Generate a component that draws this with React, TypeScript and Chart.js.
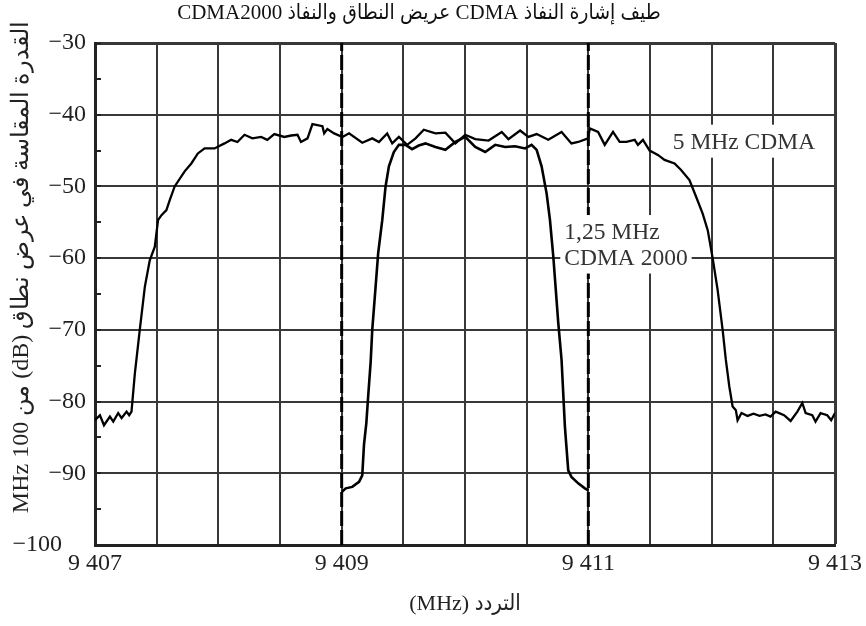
import React, { useEffect, useRef } from 'react';
import { Chart, registerables } from 'chart.js';

Chart.register(...registerables);

// ---------- text ----------
const RLE = '\u202B';
const PDF = '\u202C';
const chartTitle = 'طيف إشارة النفاذ CDMA عريض النطاق والنفاذ CDMA2000';
const xAxisTitle = 'التردد (MHz)';
const yAxisTitle = 'القدرة المقاسة في عرض نطاق (dB) من 100 MHz';

// ---------- ticks ----------
const xTickValues = [9407, 9409, 9411, 9413];
const xTickLabels = ['9 407', '9 409', '9 411', '9 413'];
const yTickValues = [-30, -40, -50, -60, -70, -80, -90, -100];
const yTickLabels = ['−30', '−40', '−50', '−60', '−70', '−80', '−90', '−100    '];

// ---------- markers ----------
const markerFreqs = [9409, 9411];

// ---------- 5 MHz CDMA trace ----------
const freq5MHz = [
  9407.000, 9407.040, 9407.073, 9407.121, 9407.148, 9407.188, 9407.216, 9407.256, 9407.277, 9407.296,
  9407.323, 9407.363, 9407.404, 9407.444, 9407.485, 9407.511, 9407.539, 9407.579, 9407.606, 9407.646,
  9407.727, 9407.781, 9407.834, 9407.889, 9407.969, 9408.050, 9408.104, 9408.155, 9408.212, 9408.276,
  9408.347, 9408.397, 9408.454, 9408.535, 9408.591, 9408.642, 9408.670, 9408.723, 9408.763, 9408.844,
  9408.858, 9408.884, 9408.939, 9409.006, 9409.060, 9409.167, 9409.248, 9409.302, 9409.369, 9409.410,
  9409.464, 9409.531, 9409.599, 9409.666, 9409.760, 9409.841, 9409.922, 9410.002, 9410.083, 9410.191,
  9410.298, 9410.352, 9410.447, 9410.514, 9410.581, 9410.675, 9410.783, 9410.863, 9410.918, 9410.998,
  9411.012, 9411.079, 9411.133, 9411.200, 9411.254, 9411.308, 9411.376, 9411.402, 9411.443, 9411.497,
  9411.564, 9411.618, 9411.699, 9411.752, 9411.820, 9411.873, 9411.927, 9411.968, 9412.008, 9412.048,
  9412.089, 9412.115, 9412.143, 9412.170, 9412.196, 9412.210, 9412.242, 9412.291, 9412.339, 9412.388,
  9412.436, 9412.477, 9412.519, 9412.587, 9412.640, 9412.695, 9412.735, 9412.762, 9412.816, 9412.842,
  9412.883, 9412.937, 9412.969, 9413.000,
];
const power5MHz = [
  -82.6, -81.9, -83.3, -82.1, -82.8, -81.6, -82.3, -81.4, -81.9, -81.4,
  -76.1, -70.0, -64.0, -60.3, -58.4, -54.7, -54.0, -53.3, -51.9, -50.0,
  -47.9, -46.8, -45.4, -44.7, -44.7, -44.0, -43.5, -43.8, -42.8, -43.3,
  -43.1, -43.5, -42.7, -43.1, -42.9, -42.8, -43.8, -43.3, -41.3, -41.6,
  -42.6, -42.0, -42.6, -43.1, -42.6, -43.9, -43.3, -43.8, -42.6, -44.0,
  -43.1, -44.2, -43.3, -42.1, -42.6, -42.5, -44.0, -42.8, -43.4, -43.6,
  -42.4, -43.4, -42.2, -43.1, -42.7, -43.5, -42.4, -44.0, -43.8, -43.3,
  -41.9, -42.4, -44.2, -42.4, -43.8, -43.8, -43.5, -44.2, -43.5, -45.0,
  -45.6, -46.3, -46.8, -47.7, -49.1, -51.4, -53.8, -56.1, -60.0, -64.4,
  -70.0, -74.2, -77.9, -80.7, -81.2, -82.6, -81.6, -82.0, -81.7, -82.0,
  -81.8, -82.1, -81.4, -81.9, -82.7, -81.4, -80.2, -81.6, -81.9, -82.8,
  -81.6, -81.9, -82.6, -81.6,
];

// ---------- 1.25 MHz CDMA2000 trace ----------
const freq125MHz = [
  9409.000, 9409.033, 9409.086, 9409.141, 9409.167, 9409.181, 9409.200, 9409.216, 9409.235, 9409.248,
  9409.275, 9409.296, 9409.329, 9409.356, 9409.383, 9409.423, 9409.464, 9409.518, 9409.571, 9409.625,
  9409.679, 9409.760, 9409.841, 9409.922, 9410.002, 9410.083, 9410.164, 9410.245, 9410.326, 9410.406,
  9410.487, 9410.540, 9410.581, 9410.621, 9410.662, 9410.689, 9410.716, 9410.730, 9410.756, 9410.783,
  9410.810, 9410.837, 9410.863, 9410.918, 9410.972, 9411.000,
];
const power125MHz = [
  -92.6, -92.1, -91.9, -91.2, -90.3, -86.0, -83.0, -79.0, -74.5, -70.0,
  -64.0, -59.3, -54.7, -50.0, -47.2, -45.2, -44.2, -44.2, -44.8, -44.3,
  -44.0, -44.5, -44.9, -43.8, -43.1, -44.5, -45.2, -44.2, -44.5, -44.4,
  -44.7, -44.2, -44.9, -47.2, -51.0, -54.7, -59.8, -63.0, -69.0, -74.2,
  -83.5, -89.6, -90.5, -91.4, -92.1, -92.4,
];

// ---------- annotation labels ----------
const label5Lines = ['5 MHz CDMA'];
const label125Lines = ['1,25 MHz', 'CDMA 2000'];
const annotationAnchors = [
  { lines: label5Lines, x: 9411.685, y: -43.9 },
  { lines: label125Lines, x: 9410.805, y: -56.5 },
];

const SERIF = '"Liberation Serif", "Times New Roman", "DejaVu Sans Condensed", serif';
const TICK_SIZE = 24;
const ANNOT_SIZE = 23.5;
const TITLE_SIZE = 21;
const XTITLE_SIZE = 22;
const YTITLE_SIZE = 24;

const annotationPlugin = {
  id: 'textAnnotations',
  afterDatasetsDraw(chart: any) {
    const { ctx, scales } = chart;
    const xs = scales.x;
    const ys = scales.y;
    ctx.save();
    ctx.font = `${ANNOT_SIZE}px ${SERIF}`;
    ctx.textAlign = 'left';
    ctx.textBaseline = 'middle';
    const lh = 25.5;
    for (const a of annotationAnchors) {
      const px = xs.getPixelForValue(a.x);
      const py = ys.getPixelForValue(a.y);
      const w = Math.max(...a.lines.map((l: string) => ctx.measureText(l).width));
      const top = py - 18;
      const bottom = py + (a.lines.length - 1) * lh + 15;
      ctx.fillStyle = '#ffffff';
      ctx.fillRect(px - 4, top, w + 8, bottom - top);
      ctx.fillStyle = '#333333';
      a.lines.forEach((l: string, i: number) => ctx.fillText(l, px, py + i * lh));
    }
    ctx.restore();
  },
};

const yTitlePlugin = {
  id: 'rtlYTitle',
  afterDraw(chart: any) {
    const { ctx, chartArea, scales } = chart;
    const ys = scales.y;
    ctx.save();
    ctx.translate(ys.left + 22, (chartArea.top + chartArea.bottom) / 2 - 27);
    ctx.rotate(-Math.PI / 2);
    ctx.font = `${YTITLE_SIZE}px "Liberation Serif", "Times New Roman", serif`;
    ctx.fillStyle = '#222222';
    (ctx as any).direction = 'rtl';
    ctx.textAlign = 'center';
    ctx.textBaseline = 'middle';
    ctx.fillText(yAxisTitle, 0, 0);
    ctx.restore();
  },
};

export default function App() {
  const canvasRef = useRef<HTMLCanvasElement | null>(null);

  useEffect(() => {
    if (!canvasRef.current) return;
    const trace5 = freq5MHz.map((f, i) => ({ x: f, y: power5MHz[i] }));
    const trace125 = freq125MHz.map((f, i) => ({ x: f, y: power125MHz[i] }));
    const markerSets = markerFreqs.map((f) => ({
      label: `marker ${f}`,
      data: [{ x: f, y: -100 }, { x: f, y: -30 }],
      borderColor: '#000000',
      borderWidth: 3,
      borderDash: [15, 4],
      pointRadius: 0,
      fill: false,
    }));

    const chart = new Chart(canvasRef.current, {
      type: 'line',
      data: {
        datasets: [
          ...markerSets,
          {
            label: '5 MHz CDMA',
            data: trace5,
            borderColor: '#000000',
            borderWidth: 2.3,
            pointRadius: 0,
            tension: 0,
            fill: false,
          },
          {
            label: '1,25 MHz CDMA 2000',
            data: trace125,
            borderColor: '#000000',
            borderWidth: 2.6,
            pointRadius: 0,
            tension: 0,
            fill: false,
          },
        ],
      },
      options: {
        animation: false,
        responsive: true,
        maintainAspectRatio: false,
        devicePixelRatio: 1,
        layout: { padding: { left: 0, right: 28, top: 0, bottom: 0 } },
        plugins: {
          legend: { display: false },
          tooltip: { enabled: false },
          title: {
            display: true,
            text: RLE + chartTitle + PDF,
            color: '#111111',
            font: { family: SERIF, size: TITLE_SIZE, weight: 'normal' },
            padding: { top: 1, bottom: 16.8 },
          },
        },
        scales: {
          x: {
            type: 'linear',
            min: 9407,
            max: 9413,
            ticks: {
              stepSize: 0.5,
              autoSkip: false,
              maxRotation: 0,
              padding: 4,
              color: '#222222',
              font: { family: SERIF, size: TICK_SIZE },
              callback: (v: any) => {
                const idx = xTickValues.indexOf(Number(v));
                return idx >= 0 ? xTickLabels[idx] : '';
              },
            },
            grid: {
              color: '#383838',
              lineWidth: (c: any) => (c.tick && c.tick.value === 9413 ? 3 : 2),
              drawTicks: false,
            },
            border: { display: true, color: '#222222', width: 3 },
            title: {
              display: true,
              text: RLE + xAxisTitle + PDF,
              color: '#222222',
              font: { family: SERIF, size: XTITLE_SIZE },
              padding: { top: 0, bottom: 9 },
            },
            afterFit: (scale: any) => {
              scale.height = 81;
            },
          },
          y: {
            type: 'linear',
            min: -100,
            max: -30,
            ticks: {
              stepSize: 5,
              autoSkip: false,
              padding: 15,
              color: '#222222',
              font: { family: SERIF, size: TICK_SIZE },
              callback: (v: any) => {
                const idx = yTickValues.indexOf(Number(v));
                return idx >= 0 ? yTickLabels[idx] : '';
              },
            },
            grid: {
              color: (c: any) => (c.tick && c.tick.value % 10 === 0 ? '#383838' : 'rgba(0,0,0,0)'),
              lineWidth: (c: any) => (c.tick && c.tick.value === -30 ? 3 : 2),
              drawTicks: true,
              tickLength: -6,
              tickColor: '#222222',
              tickWidth: 2,
            },
            border: { display: true, color: '#222222', width: 3 },
            afterFit: (scale: any) => {
              scale.width = 95;
            },
          },
        },
      },
      plugins: [annotationPlugin, yTitlePlugin],
    } as any);

    return () => chart.destroy();
  }, []);

  return (
    <div style={{ position: 'fixed', left: 0, top: 0, width: 866, height: 626, background: '#ffffff' }}>
      <canvas ref={canvasRef} />
    </div>
  );
}
